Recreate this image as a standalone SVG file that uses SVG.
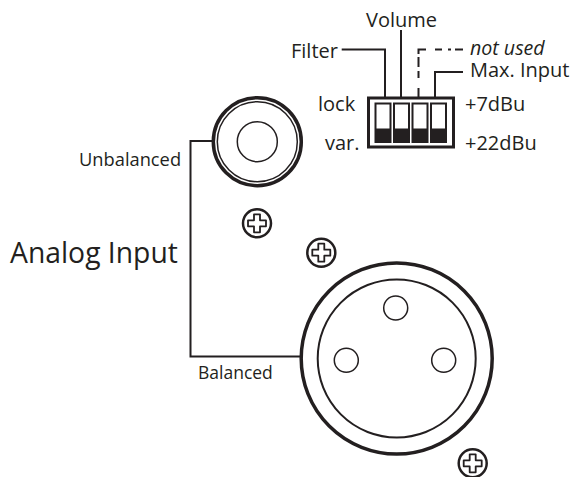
<svg xmlns="http://www.w3.org/2000/svg" width="572" height="477" viewBox="0 0 572 477">
<style>
text{font-family:"Open Sans","Noto Sans","Liberation Sans",sans-serif;fill:#231f20}
.l{font-size:20px}.s{font-size:17.500px}
.c{fill:#fff;stroke:#231f20}
.w{fill:none;stroke:#231f20;stroke-width:2}
.sw{fill:#fff;stroke:#231f20;stroke-width:2}
.k{fill:#231f20}
</style>
<defs>
<g id="screw"><circle r="14" fill="#fff" stroke="#231f20" stroke-width="2.500"/><path d="M-3-9h6v6h6v6h-6v6h-6v-6h-6v-6h6z" fill="#fff" stroke="#231f20" stroke-width="1.800" stroke-linejoin="round"/></g>
<g id="sw"><rect x="0" y="0" width="15" height="38.500" class="sw"/><rect x="0" y="25" width="15" height="14" class="k"/></g>
</defs>
<g id="connectors">
<path class="w" d="M341.700 49.500H385V97"/>
<path class="w" d="M401 30V97"/>
<path class="w" d="M418.500 97V88M418.500 78V71M418.500 67V57M418.500 54V49.500H426M435 49.500H442M448 49.500H451M455 49.500H463"/>
<path class="w" d="M435 97V72H463"/>
<path class="w" d="M190.500 141H214M190.500 140V356.500H302"/>
</g>
<g id="jack">
<circle class="c" cx="257.300" cy="141.700" r="44" stroke-width="3.500"/>
<circle class="c" cx="257.300" cy="141.700" r="40" stroke-width="1.500"/>
<circle class="c" cx="257.300" cy="141.700" r="20" stroke-width="1.500"/>
<text x="79" y="166" font-size="18.300">Unbalanced</text>
</g>
<g id="xlr">
<circle class="c" cx="396.700" cy="358.500" r="95.500" stroke-width="3.500"/>
<circle class="c" cx="396.700" cy="358.500" r="79" stroke-width="2"/>
<circle class="c" cx="395.700" cy="308" r="12" stroke-width="1.500"/>
<circle class="c" cx="346.300" cy="360.300" r="12" stroke-width="1.500"/>
<circle class="c" cx="443.700" cy="360.300" r="12" stroke-width="1.500"/>
<text x="198" y="379" class="s">Balanced</text>
</g>
<g id="screw1"><use href="#screw" x="257" y="223.300"/></g>
<g id="screw2"><use href="#screw" x="321.300" y="252.700"/></g>
<g id="screw3"><use href="#screw" x="472.700" y="463.300"/></g>
<g id="dip">
<rect x="368.500" y="98" width="85" height="49" fill="#fff" stroke="#231f20" stroke-width="3"/>
<use href="#sw" x="375.500" y="103.500"/>
<use href="#sw" x="394" y="103.500"/>
<use href="#sw" x="412.500" y="103.500"/>
<use href="#sw" x="431" y="103.500"/>
</g>
<g id="labels">
<text x="10" y="263" font-size="28.300">Analog Input</text>
<text x="291" y="58" class="l">Filter</text>
<text x="366" y="27" class="l">Volume</text>
<text x="470" y="55" font-size="19.600" font-style="italic">not used</text>
<text x="470" y="77" class="l">Max. Input</text>
<text x="318" y="111" class="l">lock</text>
<text x="325" y="150" class="l">var.</text>
<text x="465" y="111" class="l">+7dBu</text>
<text x="465" y="150" class="l">+22dBu</text>
</g>
</svg>
